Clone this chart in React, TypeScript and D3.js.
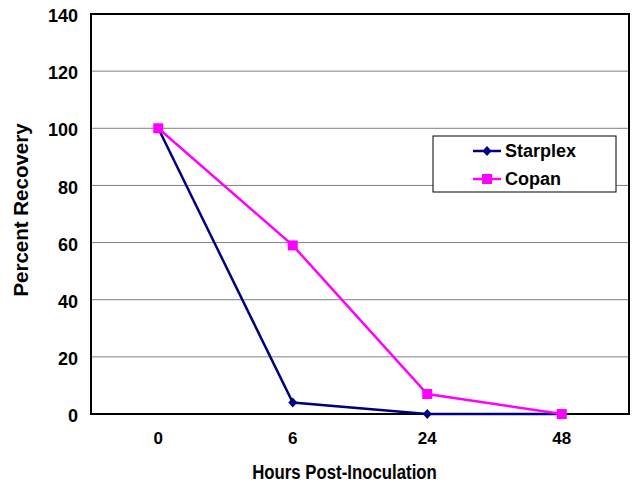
import React from 'react';
import * as d3 from 'd3';

const hours = ['0', '6', '24', '48'];
const starplex = [100, 4, 0, 0];
const copan = [100, 59, 7, 0];
const yTicks = [0, 20, 40, 60, 80, 100, 120, 140];

const W = 639;
const H = 486;
const margin = { top: 14, right: 10, bottom: 72, left: 91 };
const font = 'Liberation Sans, Arial, sans-serif';

const App = () => {
  const iw = W - margin.left - margin.right;
  const ih = H - margin.top - margin.bottom;

  const x = d3.scaleBand().domain(hours).range([0, iw]);
  const y = d3.scaleLinear().domain([0, 140]).range([ih, 0]);
  const cx = (h: string) => (x(h) as number) + x.bandwidth() / 2;

  const line = d3.line<number>().x((_, i) => cx(hours[i])).y(d => y(d));

  const series = [
    { name: 'Starplex', color: '#000080', values: starplex, shape: 'diamond' },
    { name: 'Copan', color: '#FF00FF', values: copan, shape: 'square' },
  ];

  const marker = (shape: string, px: number, py: number, color: string, key: string) =>
    shape === 'square'
      ? <rect key={key} x={px - 5} y={py - 5} width={10} height={10} fill={color} />
      : <path key={key} d={`M${px},${py - 5}L${px + 4.5},${py}L${px},${py + 5}L${px - 4.5},${py}Z`} fill={color} />;

  return (
    <svg width={W} height={H} style={{ position: 'absolute', left: 0, top: 0, background: '#fff' }} fontFamily={font}>
      <g transform={`translate(${margin.left},${margin.top})`}>
        {yTicks.map(t => (
          <g key={t}>
            {t > 0 && t < 140 && <line x1={0} x2={iw} y1={y(t)} y2={y(t)} stroke="#808080" strokeWidth={1} />}
            <text x={-13} y={y(t)} dy="0.45em" textAnchor="end" fontSize={18} fontWeight="bold">{t}</text>
          </g>
        ))}
        {hours.map(h => (
          <text key={h} x={cx(h)} y={ih + 30} textAnchor="middle" fontSize={17} fontWeight="bold">{h}</text>
        ))}
        <rect x={0} y={0} width={iw} height={ih} fill="none" stroke="#000" strokeWidth={2} />
        {series.map(s => (
          <g key={s.name}>
            <path d={line(s.values) as string} fill="none" stroke={s.color} strokeWidth={2.5} />
            {s.values.map((v, i) => marker(s.shape, cx(hours[i]), y(v), s.color, s.name + i))}
          </g>
        ))}
        <g transform={`translate(${433 - margin.left},${136 - margin.top})`}>
          <rect x={0} y={0} width={183} height={56} fill="#fff" stroke="#000" strokeWidth={1} />
          {series.map((s, i) => (
            <g key={s.name} transform={`translate(0,${15 + i * 28})`}>
              <line x1={40} x2={68} y1={0} y2={0} stroke={s.color} strokeWidth={2.5} />
              {marker(s.shape, 54, 0, s.color, 'l' + s.name)}
              <text x={72} y={0} dy="0.36em" fontSize={18} fontWeight="bold">{s.name}</text>
            </g>
          ))}
        </g>
      </g>
      <text transform="translate(344.5,479) scale(0.84,1)" textAnchor="middle" fontSize={20} fontWeight="bold">Hours Post-Inoculation</text>
      <text transform="translate(28,210) rotate(-90)" textAnchor="middle" fontSize={20.5} fontWeight="bold">Percent Recovery</text>
    </svg>
  );
};

export default App;
